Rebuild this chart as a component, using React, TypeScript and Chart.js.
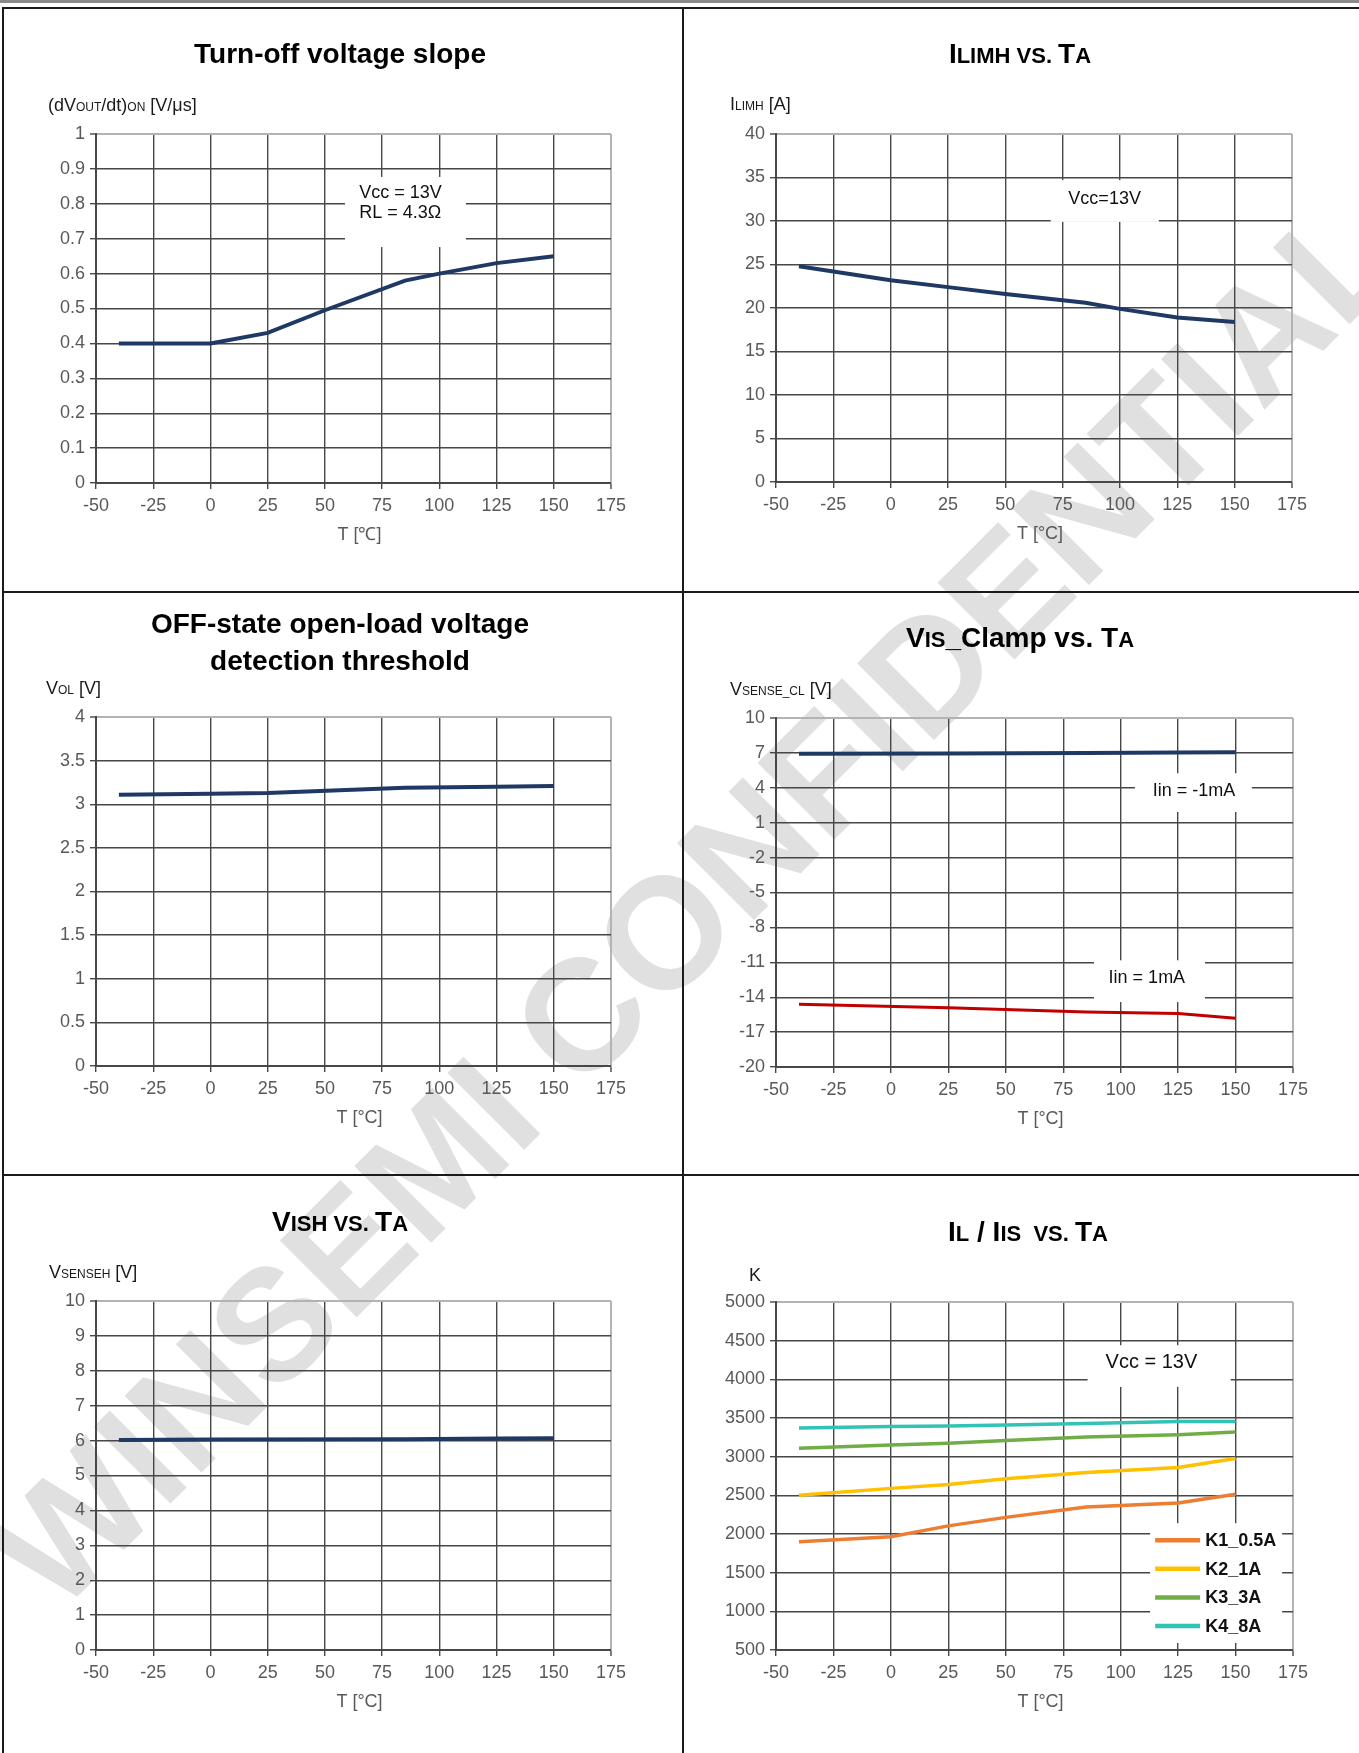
import React, { useEffect, useRef } from 'react';
import { Chart, registerables } from 'chart.js';

Chart.register(...registerables);

const FONT = "'Liberation Sans', Arial, Helvetica, sans-serif";

// ---------- axis ticks ----------
const T_MIN = -50;
const T_MAX = 175;
const T_STEP = 25;

// ---------- data ----------
// Turn-off voltage slope
const T1 = [-40, 0, 25, 50, 85, 100, 125, 150];
const SLOPE = [0.4, 0.4, 0.43, 0.495, 0.58, 0.6, 0.63, 0.65];

// ILIMH vs TA
const T2 = [-40, -25, 0, 25, 50, 85, 100, 125, 150];
const ILIMH = [24.8, 24.2, 23.2, 22.4, 21.6, 20.6, 19.9, 18.9, 18.4];

// OFF-state open-load threshold
const T3 = [-40, 0, 25, 85, 125, 150];
const VOL = [3.11, 3.12, 3.13, 3.19, 3.2, 3.21];

// VIS_Clamp vs TA
const T4 = [-40, 25, 85, 125, 150];
const VCL_NEG = [6.92, 6.95, 7.0, 7.03, 7.05];
const VCL_POS = [-14.6, -14.9, -15.28, -15.4, -15.8];

// VISH vs TA
const T5 = [-40, 0, 85, 125, 150];
const VISH = [6.02, 6.03, 6.04, 6.06, 6.07];

// IL / IIS vs TA
const T6 = [-40, 0, 25, 50, 85, 125, 150];
const K1 = [1900, 1965, 2105, 2215, 2350, 2400, 2515];
const K2 = [2500, 2590, 2640, 2715, 2795, 2860, 2975];
const K3 = [3110, 3150, 3175, 3210, 3255, 3285, 3320];
const K4 = [3370, 3390, 3395, 3410, 3430, 3455, 3455];

// ---------- styles ----------
const NAVY = '#1F3864';
const RED = '#C00000';
const ORANGE = '#ED7D31';
const YELLOW = '#FFC000';
const GREEN = '#70AD47';
const TEAL = '#33C3B5';
const GRID_DARK = '#474747';
const GRID_LIGHT = '#b3b3b3';
const TICK_COLOR = '#595959';
const YW = 70;
const XH = 40;

type Seg = [string, number];
interface Series { label: string; xs: number[]; ys: number[]; color: string; width: number; }
interface Note { lines: string[]; x: number; y: number; gap: number; size: number; align: CanvasTextAlign; box: [number, number, number, number]; }
interface PanelSpec {
  id: string;
  cell: { x: number; y: number; w: number; h: number };
  plot: { l: number; t: number; r: number; b: number };
  titleLines: Seg[][];
  titleX: number;
  titleBase: number[];
  yTitle: Seg[];
  yTitleX: number;
  yTitleBase: number;
  xTitle: string;
  yMin: number;
  yMax: number;
  yStep: number;
  series: Series[];
  notes: Note[];
  legend?: { x: number; y: number };
}

const PANELS: PanelSpec[] = [
  {
    id: 'p1',
    cell: { x: 4, y: 9, w: 678, h: 582 },
    plot: { l: 96, t: 134, r: 611, b: 483 },
    titleLines: [[['Turn-off voltage slope', 28]]],
    titleX: 340,
    titleBase: [63],
    yTitle: [['(dV', 18], ['OUT', 12], ['/dt)', 18], ['ON', 12], [' [V/μs]', 18]],
    yTitleX: 48,
    yTitleBase: 111,
    xTitle: 'T [℃]',
    yMin: 0, yMax: 1, yStep: 0.1,
    series: [{ label: 'dV/dt', xs: T1, ys: SLOPE, color: NAVY, width: 4 }],
    notes: [{ lines: ['Vcc = 13V', 'RL = 4.3Ω'], x: 65, y: 0.832, gap: 20.6, size: 18, align: 'left', box: [58.8, 111.6, 0.676, 0.877] }],
  },
  {
    id: 'p2',
    cell: { x: 684, y: 9, w: 675, h: 582 },
    plot: { l: 776, t: 134, r: 1292, b: 482 },
    titleLines: [[['I', 28], ['LIMH VS. ', 22], ['T', 28], ['A', 22]]],
    titleX: 1020,
    titleBase: [63],
    yTitle: [['I', 18], ['LIMH', 12], [' [A]', 18]],
    yTitleX: 730,
    yTitleBase: 110,
    xTitle: 'T [°C]',
    yMin: 0, yMax: 40, yStep: 5,
    series: [{ label: 'ILIMH', xs: T2, ys: ILIMH, color: NAVY, width: 4 }],
    notes: [{ lines: ['Vcc=13V'], x: 93.3, y: 32.56, gap: 0, size: 18, align: 'center', box: [69.8, 116.9, 29.9, 34.7] }],
  },
  {
    id: 'p3',
    cell: { x: 4, y: 593, w: 678, h: 581 },
    plot: { l: 96, t: 717, r: 611, b: 1066 },
    titleLines: [[['OFF-state open-load voltage', 28]], [['detection threshold', 28]]],
    titleX: 340,
    titleBase: [633, 670],
    yTitle: [['V', 18], ['OL', 12], [' [V]', 18]],
    yTitleX: 46,
    yTitleBase: 694,
    xTitle: 'T [°C]',
    yMin: 0, yMax: 4, yStep: 0.5,
    series: [{ label: 'VOL', xs: T3, ys: VOL, color: NAVY, width: 4 }],
    notes: [],
  },
  {
    id: 'p4',
    cell: { x: 684, y: 593, w: 675, h: 581 },
    plot: { l: 776, t: 718, r: 1293, b: 1067 },
    titleLines: [[['V', 28], ['IS', 22], ['_Clamp vs. ', 28], ['T', 28], ['A', 22]]],
    titleX: 1020,
    titleBase: [647],
    yTitle: [['V', 18], ['SENSE_CL', 12], [' [V]', 18]],
    yTitleX: 730,
    yTitleBase: 695,
    xTitle: 'T [°C]',
    yMin: -20, yMax: 10, yStep: 3,
    series: [
      { label: 'Iin = -1mA', xs: T4, ys: VCL_NEG, color: NAVY, width: 4 },
      { label: 'Iin = 1mA', xs: T4, ys: VCL_POS, color: RED, width: 3 },
    ],
    notes: [
      { lines: ['Iin = -1mA'], x: 131.9, y: 3.72, gap: 0, size: 18, align: 'center', box: [106.2, 157.1, 1.92, 5.25] },
      { lines: ['Iin = 1mA'], x: 111.4, y: -12.36, gap: 0, size: 18, align: 'center', box: [88.4, 136.7, -14.42, -10.83] },
    ],
  },
  {
    id: 'p5',
    cell: { x: 4, y: 1176, w: 678, h: 577 },
    plot: { l: 96, t: 1301, r: 611, b: 1650 },
    titleLines: [[['V', 28], ['ISH VS. ', 22], ['T', 28], ['A', 22]]],
    titleX: 340,
    titleBase: [1231],
    yTitle: [['V', 18], ['SENSEH', 12], [' [V]', 18]],
    yTitleX: 49,
    yTitleBase: 1278,
    xTitle: 'T [°C]',
    yMin: 0, yMax: 10, yStep: 1,
    series: [{ label: 'VISH', xs: T5, ys: VISH, color: NAVY, width: 4 }],
    notes: [],
  },
  {
    id: 'p6',
    cell: { x: 684, y: 1176, w: 675, h: 577 },
    plot: { l: 776, t: 1302, r: 1293, b: 1650 },
    titleLines: [[['I', 28], ['L', 22], [' / ', 28], ['I', 28], ['IS', 22], ['  VS. ', 22], ['T', 28], ['A', 22]]],
    titleX: 1028,
    titleBase: [1241],
    yTitle: [['K', 18]],
    yTitleX: 749,
    yTitleBase: 1281,
    xTitle: 'T [°C]',
    yMin: 500, yMax: 5000, yStep: 500,
    series: [
      { label: 'K1_0.5A', xs: T6, ys: K1, color: ORANGE, width: 3.5 },
      { label: 'K2_1A', xs: T6, ys: K2, color: YELLOW, width: 3.5 },
      { label: 'K3_3A', xs: T6, ys: K3, color: GREEN, width: 3.5 },
      { label: 'K4_8A', xs: T6, ys: K4, color: TEAL, width: 3.5 },
    ],
    notes: [{ lines: ['Vcc = 13V'], x: 113.4, y: 4212, gap: 0, size: 20, align: 'center', box: [85.6, 147.9, 3902, 4441] }],
    legend: { x: 115, y: 1920 },
  },
];

const WATERMARK = { text: 'WINSEMI CONFIDENTIAL', cx: 694, cy: 900, size: 158, angle: -45, color: '#e0e0e0' };

function drawRich(ctx: CanvasRenderingContext2D, segs: Seg[], x: number, base: number, align: 'left' | 'center', weight: string, color: string) {
  let total = 0;
  for (const [t, s] of segs) {
    ctx.font = `${weight} ${s}px ${FONT}`;
    total += ctx.measureText(t).width;
  }
  let cx = align === 'center' ? x - total / 2 : x;
  ctx.textAlign = 'left';
  ctx.textBaseline = 'alphabetic';
  ctx.fillStyle = color;
  for (const [t, s] of segs) {
    ctx.font = `${weight} ${s}px ${FONT}`;
    ctx.fillText(t, cx, base);
    cx += ctx.measureText(t).width;
  }
}

function fmt(v: number | string) {
  return String(Math.round(Number(v) * 100) / 100);
}

function overlay(spec: PanelSpec) {
  return {
    id: 'overlay_' + spec.id,
    beforeDatasetsDraw(chart: any) {
      const ctx: CanvasRenderingContext2D = chart.ctx;
      const xs = chart.scales.x;
      const ys = chart.scales.y;
      ctx.save();
      for (const n of spec.notes) {
        const x1 = xs.getPixelForValue(n.box[0]);
        const x2 = xs.getPixelForValue(n.box[1]);
        const y1 = ys.getPixelForValue(n.box[3]);
        const y2 = ys.getPixelForValue(n.box[2]);
        ctx.fillStyle = '#ffffff';
        ctx.fillRect(x1, y1, x2 - x1, y2 - y1);
        ctx.fillStyle = '#111111';
        ctx.font = `${n.size}px ${FONT}`;
        ctx.textAlign = n.align;
        ctx.textBaseline = 'middle';
        const tx = xs.getPixelForValue(n.x);
        const ty = ys.getPixelForValue(n.y);
        n.lines.forEach((l, i) => ctx.fillText(l, tx, ty + i * n.gap));
      }
      if (spec.legend) {
        const lx = xs.getPixelForValue(spec.legend.x);
        const ly = ys.getPixelForValue(spec.legend.y);
        const row = 28.6;
        const dsets = chart.data.datasets;
        ctx.fillStyle = '#ffffff';
        ctx.fillRect(lx - 5, ly - 17, 132, (dsets.length - 1) * row + 34);
        dsets.forEach((d: any, i: number) => {
          const y = ly + i * row;
          ctx.strokeStyle = d.borderColor;
          ctx.lineWidth = 4.5;
          ctx.beginPath();
          ctx.moveTo(lx, y);
          ctx.lineTo(lx + 45, y);
          ctx.stroke();
          ctx.fillStyle = '#111111';
          ctx.font = `bold 18px ${FONT}`;
          ctx.textAlign = 'left';
          ctx.textBaseline = 'middle';
          ctx.fillText(d.label, lx + 50, y + 1);
        });
      }
      ctx.restore();
    },
    afterDraw(chart: any) {
      const ctx: CanvasRenderingContext2D = chart.ctx;
      const ox = spec.cell.x;
      const oy = spec.cell.y;
      ctx.save();
      spec.titleLines.forEach((segs, i) => {
        drawRich(ctx, segs, spec.titleX - ox, spec.titleBase[i] - oy, 'center', 'bold', '#000000');
      });
      drawRich(ctx, spec.yTitle, spec.yTitleX - ox, spec.yTitleBase - oy, 'left', 'normal', '#1a1a1a');
      const a = chart.chartArea;
      ctx.font = `18px ${FONT}`;
      ctx.fillStyle = TICK_COLOR;
      ctx.textAlign = 'center';
      ctx.textBaseline = 'middle';
      ctx.fillText(spec.xTitle, (a.left + a.right) / 2 + 6, a.bottom + 52);
      ctx.restore();
    },
  };
}

function buildConfig(spec: PanelSpec): any {
  const { cell, plot } = spec;
  const pad = {
    left: plot.l - cell.x - YW,
    top: plot.t - cell.y,
    right: cell.x + cell.w - plot.r,
    bottom: cell.y + cell.h - plot.b - XH,
  };
  const isMax = (max: number) => (c: any) => c.tick && Math.abs(c.tick.value - max) < 1e-6;
  const gridColor = (max: number) => (c: any) => (isMax(max)(c) ? GRID_LIGHT : GRID_DARK);
  const gridWidth = (max: number) => (c: any) => (isMax(max)(c) ? 2 : 1.4);
  return {
    type: 'line',
    data: {
      datasets: spec.series.map((s) => ({
        label: s.label,
        data: s.xs.map((x, i) => ({ x, y: s.ys[i] })),
        borderColor: s.color,
        backgroundColor: s.color,
        borderWidth: s.width,
        pointRadius: 0,
        tension: 0,
        fill: false,
      })),
    },
    options: {
      animation: false,
      responsive: false,
      maintainAspectRatio: false,
      events: [],
      layout: { padding: pad },
      plugins: { legend: { display: false }, tooltip: { enabled: false }, title: { display: false } },
      scales: {
        x: {
          type: 'linear',
          min: T_MIN,
          max: T_MAX,
          ticks: { stepSize: T_STEP, autoSkip: false, maxRotation: 0, color: TICK_COLOR, font: { family: FONT, size: 18 }, padding: 6, callback: fmt },
          grid: { color: gridColor(T_MAX), lineWidth: gridWidth(T_MAX), tickLength: 6, tickColor: GRID_DARK, tickWidth: 1.4 },
          border: { color: GRID_DARK, width: 2 },
          afterFit: (s: any) => { s.height = XH; },
        },
        y: {
          type: 'linear',
          min: spec.yMin,
          max: spec.yMax,
          ticks: { stepSize: spec.yStep, autoSkip: false, color: TICK_COLOR, font: { family: FONT, size: 18 }, padding: 5, callback: fmt },
          grid: { color: gridColor(spec.yMax), lineWidth: gridWidth(spec.yMax), tickLength: 6, tickColor: GRID_DARK, tickWidth: 1.4 },
          border: { color: GRID_DARK, width: 2 },
          afterFit: (s: any) => { s.width = YW; },
        },
      },
    },
    plugins: [overlay(spec)],
  };
}

function Panel({ spec }: { spec: PanelSpec }) {
  const ref = useRef<HTMLCanvasElement>(null);
  useEffect(() => {
    const chart = new Chart(ref.current as HTMLCanvasElement, buildConfig(spec));
    return () => chart.destroy();
  }, [spec]);
  return (
    <canvas
      ref={ref}
      width={spec.cell.w}
      height={spec.cell.h}
      style={{ position: 'absolute', left: spec.cell.x, top: spec.cell.y, width: spec.cell.w, height: spec.cell.h, zIndex: 1 }}
    />
  );
}

function Watermark() {
  const ref = useRef<HTMLCanvasElement>(null);
  useEffect(() => {
    const c = ref.current as HTMLCanvasElement;
    const ctx = c.getContext('2d') as CanvasRenderingContext2D;
    ctx.clearRect(0, 0, c.width, c.height);
    ctx.save();
    ctx.translate(WATERMARK.cx, WATERMARK.cy);
    ctx.rotate((WATERMARK.angle * Math.PI) / 180);
    ctx.font = `bold ${WATERMARK.size}px ${FONT}`;
    ctx.fillStyle = WATERMARK.color;
    ctx.textAlign = 'center';
    ctx.textBaseline = 'alphabetic';
    ctx.fillText(WATERMARK.text, 0, WATERMARK.size * 0.358);
    ctx.restore();
  }, []);
  return <canvas ref={ref} width={1359} height={1753} style={{ position: 'absolute', left: 0, top: 0, zIndex: 0 }} />;
}

const line = (s: React.CSSProperties): React.CSSProperties => ({ position: 'absolute', zIndex: 2, ...s });

export default function App() {
  return (
    <div style={{ position: 'absolute', left: 0, top: 0, width: 1359, height: 1753, background: '#ffffff', overflow: 'hidden' }}>
      <Watermark />
      {PANELS.map((p) => (
        <Panel key={p.id} spec={p} />
      ))}
      <div style={line({ left: 0, top: 0, width: 1359, height: 3, background: '#8a8a8a' })} />
      <div style={line({ left: 2, top: 7, width: 1357, height: 2, background: '#1a1a1a' })} />
      <div style={line({ left: 2, top: 7, width: 2, height: 1746, background: '#1a1a1a' })} />
      <div style={line({ left: 682, top: 7, width: 2, height: 1746, background: '#1a1a1a' })} />
      <div style={line({ left: 2, top: 591, width: 1357, height: 2, background: '#1a1a1a' })} />
      <div style={line({ left: 2, top: 1174, width: 1357, height: 2, background: '#1a1a1a' })} />
    </div>
  );
}
